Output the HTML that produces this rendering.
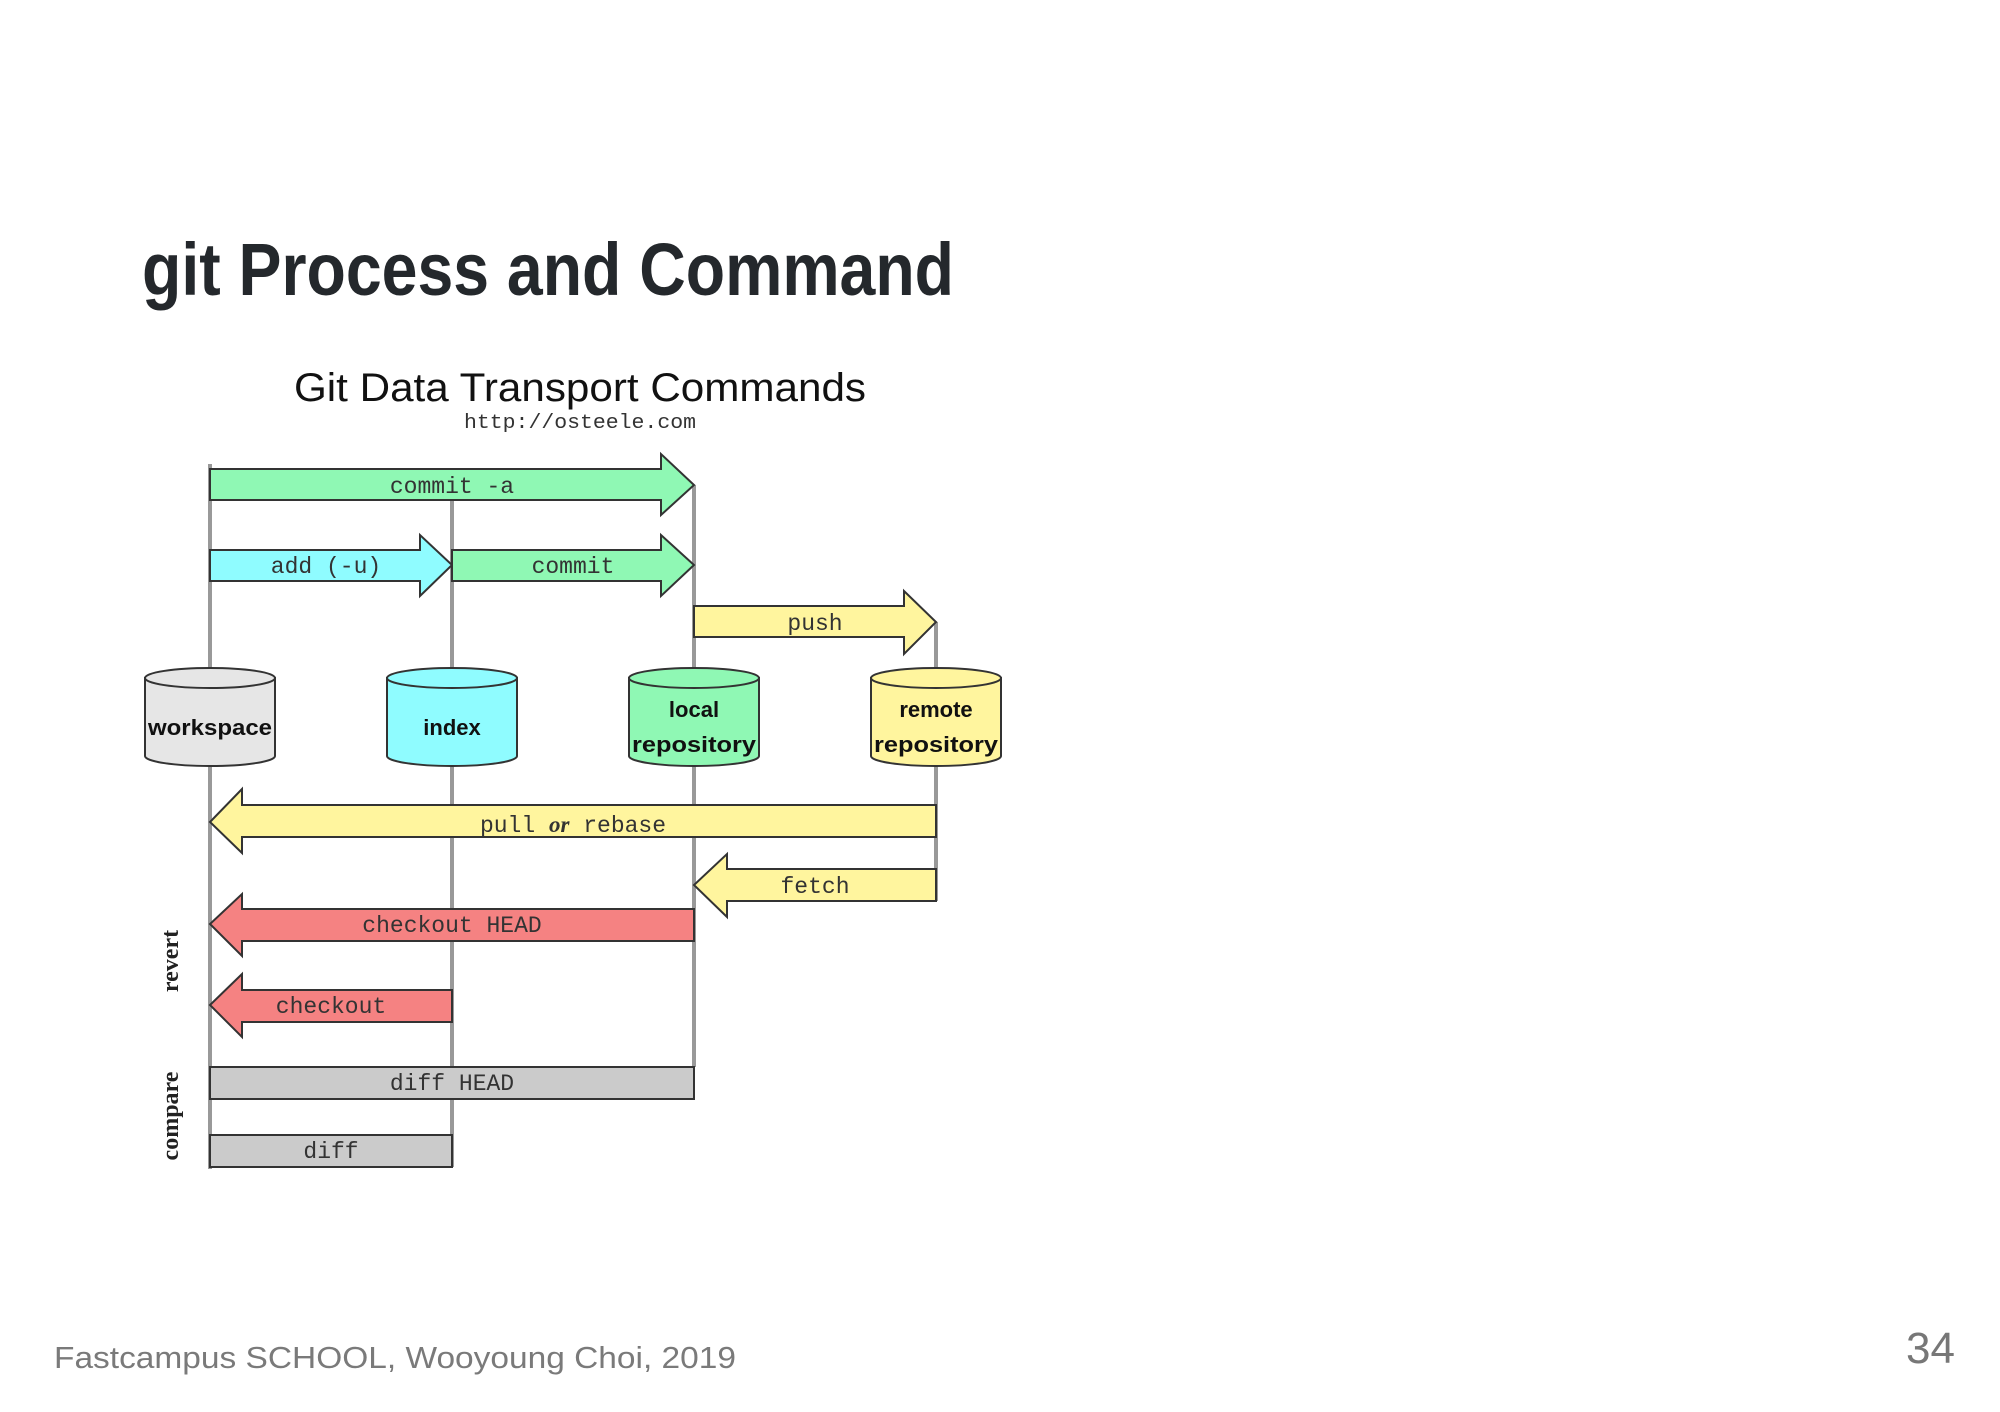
<!DOCTYPE html>
<html><head><meta charset="utf-8"><style>
html,body{margin:0;padding:0;background:#fff;}
svg{display:block;}
</style></head><body>
<svg width="2000" height="1412" viewBox="0 0 2000 1412" xmlns="http://www.w3.org/2000/svg">
<rect width="2000" height="1412" fill="#fff"/>
<text x="142" y="295" font-family="'Liberation Sans',sans-serif" font-weight="bold" font-size="74" fill="#24282c" textLength="812" lengthAdjust="spacingAndGlyphs">git Process and Command</text>
<text x="580" y="401" text-anchor="middle" font-family="'Liberation Sans',sans-serif" font-size="40" fill="#111" textLength="572" lengthAdjust="spacingAndGlyphs">Git Data Transport Commands</text>
<text x="580" y="428" text-anchor="middle" font-family="'Liberation Mono',monospace" font-size="20" fill="#333" textLength="232" lengthAdjust="spacingAndGlyphs">http://osteele.com</text>
<g stroke="#999" stroke-width="4">
<line x1="210" y1="464" x2="210" y2="1169"/>
<line x1="452" y1="500" x2="452" y2="1167"/>
<line x1="694" y1="485" x2="694" y2="1067"/>
<line x1="936" y1="622" x2="936" y2="901"/>
</g>
<g stroke="#333" stroke-width="2" stroke-linejoin="miter">
<polygon points="210,469 661,469 661,454 694,485 661,515 661,500 210,500" fill="#8ff8b4"/>
<polygon points="210,550 420,550 420,535 452,565 420,596 420,581 210,581" fill="#8ffcff"/>
<polygon points="452,550 661,550 661,535 694,565 661,596 661,581 452,581" fill="#8ff8b4"/>
<polygon points="694,606 904,606 904,591 936,622 904,654 904,637 694,637" fill="#fff59e"/>
<polygon points="936,805 242,805 242,789 210,822 242,853 242,837 936,837" fill="#fff59e"/>
<polygon points="936,869 727,869 727,854 694,885 727,917 727,901 936,901" fill="#fff59e"/>
<polygon points="694,909 242,909 242,894 210,924 242,956 242,941 694,941" fill="#f58282"/>
<polygon points="452,990 242,990 242,974 210,1005 242,1037 242,1022 452,1022" fill="#f58282"/>
<rect x="210" y="1067" width="484" height="32" fill="#cbcbcb"/>
<rect x="210" y="1135" width="242" height="32" fill="#cbcbcb"/>
</g>
<g font-family="'Liberation Mono',monospace" font-size="23" fill="#333" text-anchor="middle">
<text x="452" y="493">commit -a</text>
<text x="326" y="573">add (-u)</text>
<text x="573" y="573">commit</text>
<text x="815" y="630">push</text>
<text x="573" y="832">pull <tspan font-family="'Liberation Serif',serif" font-style="italic" font-weight="bold">or</tspan> rebase</text>
<text x="815" y="893">fetch</text>
<text x="452" y="932">checkout HEAD</text>
<text x="331" y="1013">checkout</text>
<text x="452" y="1090">diff HEAD</text>
<text x="331" y="1158">diff</text>
</g>
<g stroke="#333" stroke-width="2">
<path d="M145,678 L145,756 A65,10 0 0 0 275,756 L275,678 Z" fill="#e6e6e6"/>
<ellipse cx="210" cy="678" rx="65" ry="10" fill="#e6e6e6"/>
<path d="M387,678 L387,756 A65,10 0 0 0 517,756 L517,678 Z" fill="#8ffcff"/>
<ellipse cx="452" cy="678" rx="65" ry="10" fill="#8ffcff"/>
<path d="M629,678 L629,756 A65,10 0 0 0 759,756 L759,678 Z" fill="#8ff8b4"/>
<ellipse cx="694" cy="678" rx="65" ry="10" fill="#8ff8b4"/>
<path d="M871,678 L871,756 A65,10 0 0 0 1001,756 L1001,678 Z" fill="#fff59e"/>
<ellipse cx="936" cy="678" rx="65" ry="10" fill="#fff59e"/>
</g>
<g font-family="'Liberation Sans',sans-serif" font-weight="bold" font-size="22" fill="#111" text-anchor="middle">
<text x="210" y="735" textLength="124" lengthAdjust="spacingAndGlyphs">workspace</text>
<text x="452" y="735">index</text>
<text x="694" y="717">local</text>
<text x="694" y="752" textLength="124" lengthAdjust="spacingAndGlyphs">repository</text>
<text x="936" y="717">remote</text>
<text x="936" y="752" textLength="124" lengthAdjust="spacingAndGlyphs">repository</text>
</g>
<g font-family="'Liberation Serif',serif" font-weight="bold" font-size="24" fill="#222" text-anchor="middle">
<text transform="translate(178,961) rotate(-90)">revert</text>
<text transform="translate(178,1116) rotate(-90)">compare</text>
</g>
<text x="54" y="1368" font-family="'Liberation Sans',sans-serif" font-size="31" fill="#7a7a7a" textLength="682" lengthAdjust="spacingAndGlyphs">Fastcampus SCHOOL, Wooyoung Choi, 2019</text>
<text x="1955" y="1363" text-anchor="end" font-family="'Liberation Sans',sans-serif" font-size="44" fill="#777">34</text>
</svg>
</body></html>
